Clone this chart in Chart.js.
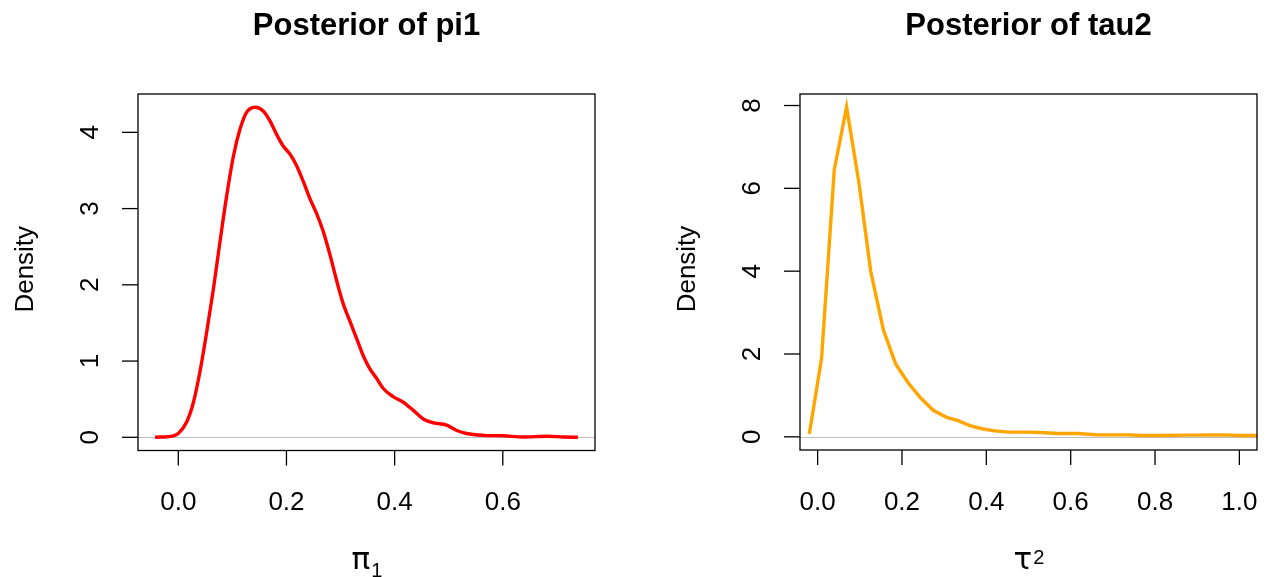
<!DOCTYPE html>
<html>
<head>
<meta charset="utf-8">
<title>Posterior densities</title>
<script src="https://cdn.jsdelivr.net/npm/chart.js@4.4.0/dist/chart.umd.min.js"></script>
<style>
  html, body { margin: 0; padding: 0; background: #fff; }
  #wrap { position: relative; width: 1270px; height: 577px; }
  canvas { position: absolute; top: 0; }
</style>
</head>
<body>
<div id="wrap">
  <canvas id="pi1" width="635" height="577" style="left:0"></canvas>
  <canvas id="tau2" width="635" height="577" style="left:635px"></canvas>
</div>
<script>
// kernel density of pi1 draws
const pi1X = [-0.043, -0.009, 0, 0.0155, 0.028, 0.040, 0.0525, 0.065, 0.077, 0.0895, 0.102, 0.114, 0.126, 0.142,
  0.157, 0.1695, 0.182, 0.194, 0.207, 0.219, 0.232, 0.244, 0.256, 0.2685, 0.281, 0.293, 0.305, 0.318, 0.330,
  0.342, 0.354, 0.367, 0.379, 0.398, 0.416, 0.435, 0.453, 0.472, 0.496, 0.515, 0.533, 0.564, 0.601, 0.638,
  0.681, 0.712, 0.739];
const pi1Density = [0, 0.02, 0.05, 0.2, 0.46, 0.86, 1.38, 1.95, 2.56, 3.17, 3.69, 4.04, 4.26, 4.33,
  4.28, 4.15, 3.97, 3.82, 3.71, 3.56, 3.34, 3.12, 2.93, 2.69, 2.38, 2.05, 1.75, 1.51, 1.29,
  1.07, 0.90, 0.77, 0.64, 0.53, 0.46, 0.35, 0.24, 0.19, 0.16, 0.09, 0.05, 0.026, 0.02, 0.005,
  0.013, 0.005, 0];

// density of tau2 draws on a coarse grid
const tau2X = [-0.0197, 0.0094, 0.0395, 0.0687, 0.098, 0.126, 0.156, 0.185, 0.215, 0.245, 0.274, 0.306,
  0.333, 0.361, 0.392, 0.42, 0.452, 0.499, 0.539, 0.57, 0.618, 0.641, 0.665, 0.736, 0.768, 0.807, 0.878,
  0.957, 1.005, 1.042, 1.08];
const tau2Density = [0.07, 1.90, 6.45, 7.96, 6.13, 3.99, 2.58, 1.76, 1.30, 0.93, 0.64, 0.47,
  0.39, 0.27, 0.19, 0.145, 0.113, 0.113, 0.097, 0.08, 0.08, 0.064, 0.048, 0.048, 0.032, 0.032, 0.04,
  0.048, 0.032, 0.032, 0.03];

const pi1XTicks = [0, 0.2, 0.4, 0.6];
const pi1YTicks = [0, 1, 2, 3, 4];
const tau2XTicks = [0, 0.2, 0.4, 0.6, 0.8, 1.0];
const tau2YTicks = [0, 2, 4, 6, 8];

const FONT = '"Liberation Sans", Arial, Helvetica, sans-serif';
const GREEK = '"DejaVu Sans", "Liberation Sans", sans-serif';

// base-graphics look: box, outward ticks, rotated y labels, titles
const basePlot = {
  id: 'basePlot',
  beforeDatasetsDraw(chart) {
    const { ctx, chartArea: a, scales: { y } } = chart;
    const y0 = Math.round(y.getPixelForValue(0)) + 0.5;
    ctx.save();
    ctx.strokeStyle = '#bebebe';
    ctx.lineWidth = 1;
    ctx.beginPath();
    ctx.moveTo(a.left, y0);
    ctx.lineTo(a.right, y0);
    ctx.stroke();
    ctx.restore();
  },
  afterDraw(chart, args, opts) {
    const { ctx, chartArea: a, scales: { x, y } } = chart;
    ctx.save();
    ctx.strokeStyle = '#000';
    ctx.fillStyle = '#000';
    ctx.lineWidth = 1.3;
    ctx.strokeRect(a.left, a.top, a.right - a.left, a.bottom - a.top);

    ctx.font = '26px ' + FONT;
    ctx.textAlign = 'center';
    ctx.textBaseline = 'alphabetic';
    opts.xTicks.forEach(v => {
      const px = x.getPixelForValue(v);
      ctx.beginPath();
      ctx.moveTo(px, a.bottom);
      ctx.lineTo(px, a.bottom + 15);
      ctx.stroke();
      ctx.fillText(v.toFixed(1), px, a.bottom + 59.5);
    });
    opts.yTicks.forEach(v => {
      const py = y.getPixelForValue(v);
      ctx.beginPath();
      ctx.moveTo(a.left - 16, py);
      ctx.lineTo(a.left, py);
      ctx.stroke();
      ctx.save();
      ctx.translate(a.left - 40, py);
      ctx.rotate(-Math.PI / 2);
      ctx.fillText(String(v), 0, 0);
      ctx.restore();
    });

    ctx.save();
    ctx.translate(a.left - 105, (a.top + a.bottom) / 2 - 3);
    ctx.rotate(-Math.PI / 2);
    ctx.fillText('Density', 0, 0);
    ctx.restore();

    const cx = (a.left + a.right) / 2;
    ctx.font = 'bold 31px ' + FONT;
    ctx.fillText(opts.title, cx, 35);

    // axis label: greek symbol with a sub- or superscript
    ctx.textAlign = 'left';
    ctx.font = '31px ' + GREEK;
    const wMain = ctx.measureText(opts.symbol).width;
    ctx.font = '20px ' + FONT;
    const wSmall = ctx.measureText(opts.script).width;
    const x0 = cx - (wMain + wSmall) / 2;
    ctx.font = '31px ' + GREEK;
    ctx.fillText(opts.symbol, x0, 569);
    ctx.font = '20px ' + FONT;
    ctx.fillText(opts.script, x0 + wMain + 1, opts.sub ? 577 : 564);
    ctx.restore();
  }
};

function densityChart(id, xs, ys, color, smooth, xr, yr, pad, labels) {
  return new Chart(document.getElementById(id), {
    type: 'line',
    data: {
      datasets: [{
        data: xs.map((v, i) => ({ x: v, y: ys[i] })),
        borderColor: color,
        borderWidth: 3.4,
        pointRadius: 0,
        fill: false,
        cubicInterpolationMode: smooth ? 'monotone' : 'default',
        tension: 0
      }]
    },
    options: {
      responsive: false,
      animation: false,
      devicePixelRatio: 1,
      layout: { padding: pad },
      scales: {
        x: { type: 'linear', display: false, min: xr[0], max: xr[1] },
        y: { type: 'linear', display: false, min: yr[0], max: yr[1] }
      },
      plugins: {
        legend: { display: false },
        tooltip: { enabled: false },
        basePlot: labels
      }
    },
    plugins: [basePlot]
  });
}

densityChart('pi1', pi1X, pi1Density, '#ff0000', true,
  [-0.0745, 0.7705], [-0.173, 4.503],
  { left: 138, right: 40, top: 94, bottom: 126.5 },
  { title: 'Posterior of pi1', xTicks: pi1XTicks, yTicks: pi1YTicks, symbol: 'π', script: '1', sub: true });

densityChart('tau2', tau2X, tau2Density, '#ffa500', false,
  [-0.0418, 1.0418], [-0.318, 8.278],
  { left: 165, right: 13, top: 94, bottom: 127 },
  { title: 'Posterior of tau2', xTicks: tau2XTicks, yTicks: tau2YTicks, symbol: 'τ', script: '2', sub: false });
</script>
</body>
</html>
